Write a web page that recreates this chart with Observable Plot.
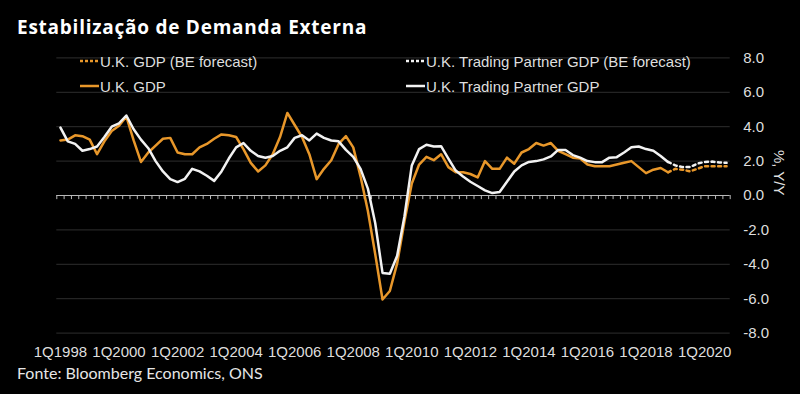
<!DOCTYPE html>
<html>
<head>
<meta charset="utf-8">
<script src="https://cdn.jsdelivr.net/npm/d3@7"></script>
<script src="https://cdn.jsdelivr.net/npm/@observablehq/plot@0.6"></script>
<style>
  html, body { margin: 0; padding: 0; background: #000; }
  #wrap { position: relative; width: 800px; height: 394px; background: #000; overflow: hidden; }
  #title { height: 42px; position: relative; }
  #title span { position: absolute; left: 17px; top: 18.1px; font: bold 19px/19px "Open Sans", Lato, sans-serif; letter-spacing: 0.75px; color: #fff; white-space: nowrap; }
  #footer { position: absolute; left: 17px; top: 364.8px; font: 16px/16px Lato, "Open Sans", sans-serif; color: #e6e6e6; white-space: nowrap; }
  .leg { position: absolute; font: 15px/15px "Liberation Sans", Arial, sans-serif; color: #dedede; white-space: nowrap; }
  .leg svg { position: absolute; top: 0; width: 20px; height: 15px; }
  #chart svg { display: block; }
</style>
</head>
<body>
<div id="wrap">
  <div id="title"><span>Estabilização de Demanda Externa</span></div>
  <div id="chart"></div>
  <div id="footer">Fonte: Bloomberg Economics, ONS</div>
  <div id="legend"></div>
</div>
<script>
// ---- Data (quarterly, index 0 = 1Q1998) ----
const startYear = 1998;
const ukGDP = [3.2,3.25,3.5,3.45,3.25,2.4,3.15,3.75,4.05,4.6,
  3.2,1.95,2.5,2.9,3.3,3.35,2.5,2.4,2.4,2.8,
  3.0,3.3,3.55,3.5,3.4,2.7,1.9,1.4,1.75,2.4,
  3.4,4.8,4.1,3.4,2.4,0.95,1.55,2.05,3.0,3.45,
  2.8,1.1,-0.9,-3.4,-6.05,-5.55,-3.95,-1.5,0.7,1.8,
  2.25,2.05,2.4,1.65,1.35,1.35,1.25,1.05,2.0,1.55,
  1.55,2.2,1.85,2.5,2.7,3.05,2.9,3.05,2.6,2.4,
  2.2,2.15,1.8,1.7,1.7,1.7,1.8,1.9,2.0,1.65,
  1.3,1.5,1.6,1.35];
const tradingPartnerGDP = [3.95,3.15,3.0,2.6,2.7,2.85,3.4,4.0,4.2,4.65,
  3.85,3.25,2.75,2.0,1.4,0.95,0.78,0.97,1.55,1.4,
  1.15,0.85,1.4,2.15,2.8,3.05,2.6,2.3,2.2,2.3,
  2.6,2.8,3.35,3.5,3.2,3.6,3.35,3.2,3.15,2.65,
  2.25,1.55,0.4,-1.6,-4.5,-4.55,-3.5,-1.2,1.75,2.7,
  2.95,2.85,2.87,2.15,1.45,1.1,0.8,0.55,0.3,0.14,
  0.2,0.8,1.4,1.75,1.95,2.0,2.1,2.27,2.65,2.65,
  2.35,2.2,2.0,1.94,1.94,2.2,2.23,2.5,2.8,2.85,
  2.7,2.6,2.3,1.95];
const forecastStart = 83; // 4Q2018, last actual
const ukForecast = [1.35,1.55,1.5,1.4,1.55,1.7,1.7,1.7,1.7];
const tradingPartnerForecast = [1.95,1.75,1.65,1.65,1.85,1.95,1.97,1.92,1.9];
const nQuarters = 92; // 1Q1998 .. 4Q2020
const xTickQuarters = [0,8,16,24,32,40,48,56,64,72,80,88];
const xTickLabels = ["1Q1998","1Q2000","1Q2002","1Q2004","1Q2006","1Q2008","1Q2010","1Q2012","1Q2014","1Q2016","1Q2018","1Q2020"];
const yTicks = [-8,-6,-4,-2,0,2,4,6,8];
const yLabel = "%, Y/Y";

const orange = "#e8972a";
const white = "#f2f2f2";

const ukRows = ukGDP.map((v, i) => ({i, v}));
const tpRows = tradingPartnerGDP.map((v, i) => ({i, v}));
const ukFRows = ukForecast.map((v, k) => ({i: forecastStart + k, v}));
const tpFRows = tradingPartnerForecast.map((v, k) => ({i: forecastStart + k, v}));
const boundaries = d3.range(nQuarters + 1).map(k => k - 0.5);

const chart = Plot.plot({
  width: 800,
  height: 320,
  marginLeft: 56.3,
  marginRight: 70.3,
  marginTop: 15.4,
  marginBottom: 29.4,
  style: {background: "#000", color: "#dedede", fontFamily: "'Liberation Sans', Arial, sans-serif", fontSize: "15px", overflow: "visible"},
  x: {domain: [-0.5, nQuarters - 0.5]},
  y: {domain: [-8, 8]},
  marks: [
    Plot.gridY(yTicks.filter(d => d !== 0), {stroke: "#2e2e2e", strokeOpacity: 1}),
    Plot.axisY(yTicks, {anchor: "right", tickSize: 0, tickPadding: 13, label: null,
      tickFormat: d => d.toFixed(1), fill: "#dedede", fontSize: 15}),
    Plot.axisX(xTickQuarters, {anchor: "bottom", tickSize: 0, tickPadding: 13, label: null,
      tickFormat: q => xTickLabels[xTickQuarters.indexOf(q)], fill: "#dedede", fontSize: 15}),
    Plot.ruleY([0], {stroke: "#b8b8b8", strokeWidth: 1}),
    Plot.ruleX(boundaries, {x: d => d, y1: 0, y2: -0.24, stroke: "#b8b8b8", strokeWidth: 1}),
    Plot.line(ukFRows, {x: "i", y: "v", stroke: orange, strokeWidth: 2.5, strokeDasharray: "3,3.5"}),
    Plot.line(tpFRows, {x: "i", y: "v", stroke: white, strokeWidth: 2.5, strokeDasharray: "3,3.5"}),
    Plot.line(ukRows, {x: "i", y: "v", stroke: orange, strokeWidth: 2.5, strokeLinejoin: "round"}),
    Plot.line(tpRows, {x: "i", y: "v", stroke: white, strokeWidth: 2.5, strokeLinejoin: "round"}),
    Plot.text([yLabel], {frameAnchor: "right", dx: 49, rotate: 90, fill: "#dedede", fontSize: 15})
  ]
});
document.getElementById("chart").appendChild(chart);

// ---- Legend (HTML overlay) ----
const legendItems = [
  {label: "U.K. GDP (BE forecast)", color: orange, dash: "3,2", left: 80, top: 54},
  {label: "U.K. GDP", color: orange, dash: null, left: 80, top: 79},
  {label: "U.K. Trading Partner GDP (BE forecast)", color: white, dash: "3,2", left: 406, top: 54},
  {label: "U.K. Trading Partner GDP", color: white, dash: null, left: 406, top: 79}
];
const legend = document.getElementById("legend");
for (const it of legendItems) {
  const d = document.createElement("div");
  d.className = "leg";
  d.style.left = it.left + "px";
  d.style.top = it.top + "px";
  d.style.paddingLeft = "20px";
  d.innerHTML = `<svg style="left:0" viewBox="0 0 20 15"><line x1="0" x2="19" y1="7" y2="7" stroke="${it.color}" stroke-width="2.5" ${it.dash ? `stroke-dasharray="${it.dash}"` : ""}/></svg>${it.label}`;
  legend.appendChild(d);
}
</script>
</body>
</html>
